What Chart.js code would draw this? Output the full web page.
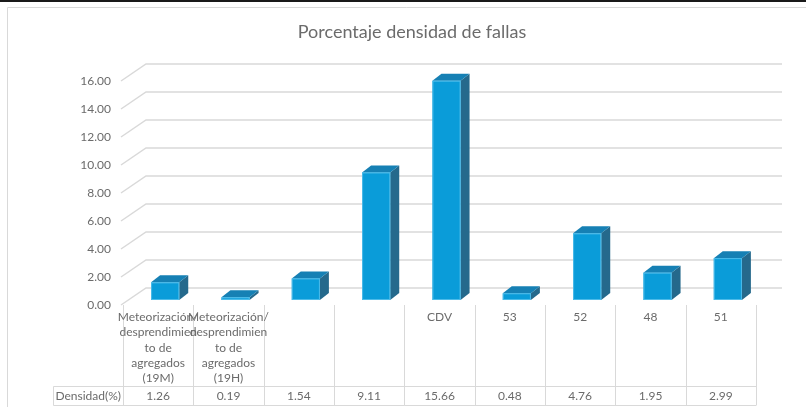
<!DOCTYPE html>
<html>
<head>
<meta charset="utf-8">
<script src="https://cdn.jsdelivr.net/npm/chart.js@4.4.1/dist/chart.umd.min.js"></script>
<style>
    html, body { margin: 0; padding: 0; background: #fff; }
    canvas { display: block; }
</style>
</head>
<body>
<canvas id="myChart" width="806" height="407"></canvas>
<script>
const chartTitle = 'Porcentaje densidad de fallas';
const categories = [
    ['Meteorización/', 'desprendimien', 'to de', 'agregados', '(19M)'],
    ['Meteorización/', 'desprendimien', 'to de', 'agregados', '(19H)'],
    '', '', 'CDV', '53', '52', '48', '51'
];
const seriesName = 'Densidad(%)';
const densidad = [1.26, 0.19, 1.54, 9.11, 15.66, 0.48, 4.76, 1.95, 2.99];
const yMin = 0;
const yMax = 16;
const yStep = 2;

const fontFamily = 'Lato, "Liberation Sans", sans-serif';
const textColor = '#6b6b6b';
const gridColor = '#d9d9d9';
// 3d look: floor depth, bar shift into the floor, bar side depth
const depth = { dx: 23, dy: -17 };
const barShift = { dx: 7, dy: -5 };
const barSide = { dx: 9, dy: -7 };

function fillPoly(c, pts, color) {
    c.beginPath();
    c.moveTo(pts[0][0], pts[0][1]);
    for (let i = 1; i < pts.length; i++) c.lineTo(pts[i][0], pts[i][1]);
    c.closePath();
    c.fillStyle = color;
    c.fill();
}

const frame3d = {
    id: 'frame3d',
    beforeDraw(chart) {
        const c = chart.ctx;
        c.save();
        c.fillStyle = '#fff';
        c.fillRect(0, 0, chart.width, chart.height);
        c.fillStyle = '#1a1a1a';
        c.fillRect(0, 0, chart.width, 2);
        c.strokeStyle = gridColor;
        c.lineWidth = 1;
        c.beginPath();
        c.moveTo(7.5, chart.height);
        c.lineTo(7.5, 7.5);
        c.lineTo(chart.width, 7.5);
        c.stroke();
        c.fillStyle = textColor;
        c.font = '18px ' + fontFamily;
        c.textAlign = 'center';
        c.textBaseline = 'middle';
        c.fillText(chartTitle, chart.width / 2 + 9, 32);
        c.restore();
    },
    beforeDatasetsDraw(chart) {
        const c = chart.ctx;
        const a = chart.chartArea;
        const y = chart.scales.y;
        c.save();
        c.strokeStyle = gridColor;
        c.lineWidth = 1.5;
        y.ticks.forEach(t => {
            const py = y.getPixelForValue(t.value);
            c.beginPath();
            c.moveTo(a.left - 2, py);
            c.lineTo(a.left + depth.dx, py + depth.dy);
            c.lineTo(a.right + depth.dx + 3, py + depth.dy);
            c.stroke();
        });
        c.restore();
    },
    afterDatasetsDraw(chart) {
        const c = chart.ctx;
        c.save();
        chart.getDatasetMeta(0).data.forEach(bar => {
            const x1 = bar.x - bar.width / 2 + barShift.dx;
            const x2 = x1 + bar.width;
            const yt = bar.y + barShift.dy;
            const yb = bar.base + barShift.dy;
            fillPoly(c, [[x2, yt], [x2 + barSide.dx, yt + barSide.dy],
                [x2 + barSide.dx, yb + barSide.dy], [x2, yb]], '#25698c');
            fillPoly(c, [[x1, yt], [x2, yt], [x2 + barSide.dx, yt + barSide.dy],
                [x1 + barSide.dx, yt + barSide.dy]], '#1680b4');
            c.fillStyle = '#0a9cd9';
            c.fillRect(x1, yt, x2 - x1, yb - yt);
            c.strokeStyle = '#4cbbe9';
            c.lineWidth = 1;
            c.strokeRect(x1 + 0.5, yt + 0.5, x2 - x1 - 1, Math.max(yb - yt - 1, 0));
        });
        c.restore();
    },
    afterDraw(chart) {
        // data table under the plot
        const c = chart.ctx;
        const a = chart.chartArea;
        const x = chart.scales.x;
        const half = (x.getPixelForValue(1) - x.getPixelForValue(0)) / 2;
        const rowTop = 386.5;
        const rowBottom = 405.5;
        const headLeft = 53.5;
        c.save();
        c.strokeStyle = gridColor;
        c.lineWidth = 1;
        c.beginPath();
        for (let i = 0; i <= categories.length; i++) {
            const xb = Math.round(x.getPixelForValue(0) - half + i * 2 * half) + 0.5;
            c.moveTo(xb, a.bottom);
            c.lineTo(xb, rowBottom);
        }
        c.moveTo(headLeft, rowTop);
        c.lineTo(a.right, rowTop);
        c.moveTo(headLeft, rowBottom);
        c.lineTo(a.right, rowBottom);
        c.moveTo(headLeft, rowTop);
        c.lineTo(headLeft, rowBottom);
        c.stroke();

        c.fillStyle = textColor;
        c.font = '12px ' + fontFamily;
        c.textAlign = 'center';
        c.textBaseline = 'middle';
        categories.forEach((label, i) => {
            const cx = x.getPixelForValue(i);
            const lines = Array.isArray(label) ? label : [label];
            lines.forEach((line, k) => c.fillText(line, cx, 317 + k * 15.4));
            c.fillText(densidad[i].toFixed(2), cx, 396);
        });
        c.fillText(seriesName, (headLeft + a.left) / 2, 396);
        c.restore();
    }
};

const ctx = document.getElementById('myChart').getContext('2d');
const myChart = new Chart(ctx, {
    type: 'bar',
    data: {
        labels: categories,
        datasets: [{
            label: seriesName,
            data: densidad,
            backgroundColor: 'rgba(0,0,0,0)',
            borderWidth: 0,
            categoryPercentage: 1,
            barPercentage: 0.4
        }]
    },
    options: {
        responsive: false,
        animation: false,
        devicePixelRatio: 1,
        layout: { padding: { top: 81, right: 50, bottom: 102, left: 0 } },
        plugins: {
            legend: { display: false },
            tooltip: { enabled: false },
            title: { display: false }
        },
        scales: {
            x: { display: false },
            y: {
                min: yMin,
                max: yMax,
                ticks: {
                    stepSize: yStep,
                    padding: 12,
                    color: textColor,
                    font: { family: fontFamily, size: 12 },
                    callback: v => v.toFixed(2)
                },
                grid: { display: false, drawTicks: false },
                border: { display: false },
                afterFit: scale => { scale.width = 123; }
            }
        }
    },
    plugins: [frame3d]
});
</script>
</body>
</html>
